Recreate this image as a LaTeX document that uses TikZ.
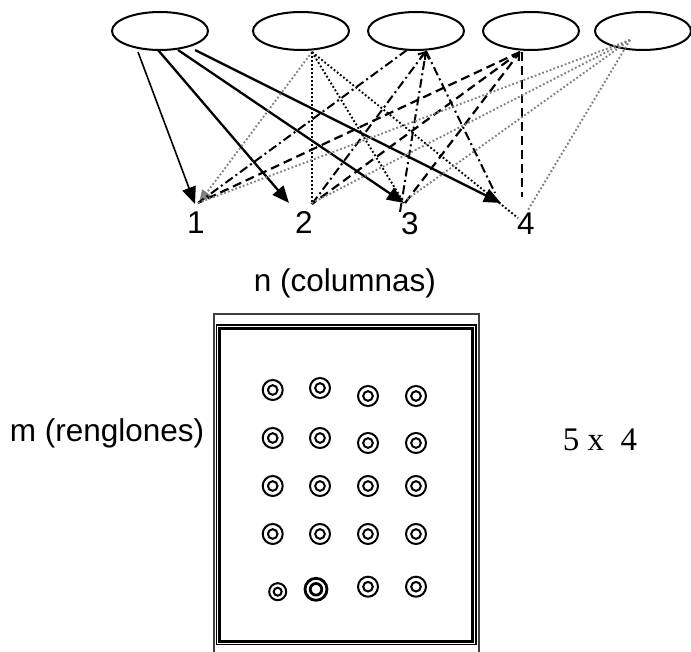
\documentclass[tikz,border=0pt]{standalone}
\usepackage{fontspec}
\setmainfont{Liberation Sans}
\newfontfamily\timesfont{Liberation Serif}
\usetikzlibrary{arrows.meta,shapes.geometric,positioning}

\begin{document}
\begin{tikzpicture}[x=1pt,y=-1pt,
  elem/.style={draw,ellipse,line width=2pt,minimum width=96pt,minimum height=38pt,inner sep=0pt},
  lbl/.style={font=\fontsize{31.5}{36}\selectfont,inner sep=0pt},
  flecha/.style={line width=2.3pt,-{Triangle[length=17pt,width=14pt]}},
  punteado/.style={line width=1.9pt,dash pattern=on 1.8pt off 2.2pt},
  gris/.style={punteado,gray},
  rayapunto/.style={line width=2pt,dash pattern=on 9pt off 3.5pt on 2pt off 3.5pt},
  rayado/.style={line width=2.2pt,dash pattern=on 9pt off 5pt},
  punta/.style={-{Straight Barb[length=6pt,width=9pt]}},
  anillo/.style={line width=1.5pt}]
\useasboundingbox (0,0) rectangle (691,652);

% elementos de arriba
\node[elem] (e1) at (160,31) {};
\node[elem] (e2) at (301,31) {};
\node[elem] (e3) at (416,31) {};
\node[elem] (e4) at (531,31) {};
\node[elem] (e5) at (643,31) {};

% puntos de salida
\coordinate (s1a) at (138,52);
\coordinate (s1b) at (158,50);
\coordinate (s1c) at (178,50);
\coordinate (s1d) at (195,50);
\coordinate (s2) at (312,52);
\coordinate (s3) at (426,51);
\coordinate (s3b) at (407,50);
\coordinate (s4) at (520,52);
\coordinate (s5) at (630,40);

% puntos de llegada
\coordinate (t1) at (195,204);
\coordinate (t2) at (312,204);
\coordinate (t3) at (404,203);
\coordinate (t4) at (501,203);

\node[lbl] (n1) at (196,223) {1};
\node[lbl] (n2) at (304,223) {2};
\node[lbl] (n3) at (410,224) {3};
\node[lbl] (n4) at (526,224) {4};

% desde el elemento 1
\draw[flecha,line width=1.6pt] (s1a) -- (t1);
\draw[flecha] (s1b) -- (289,203);
\draw[flecha] (s1c) -- (t3);
\draw[flecha] (s1d) -- (t4);

% desde el elemento 2
\draw[gris,-{Triangle[length=13pt,width=11pt]}] (s2) -- (199,203);
\draw[punteado] (s2) -- (t2);
\draw[punteado] (s2) -- (t3);
\draw[punteado] (s2) -- (518,218);

% desde el elemento 3
\draw[rayapunto] (s3b) -- (198,203);
\draw[rayapunto,punta] (t2) -- (s3);
\draw[rayapunto,punta] (400,212) -- (s3);
\draw[rayapunto] (s3) -- (495,193);

% desde el elemento 4
\draw[rayado] (s4) -- (198,203);
\draw[rayado] (s4) -- (t2);
\draw[rayado,punta] (405,203) -- (s4);
\draw[rayado] (522,52) -- (522,197);

% desde el elemento 5
\foreach \p in {(198,203),(312,203),(406,200),(528,210)}
  \draw[gris] (s5) -- \p;

% textos
\node[lbl] (col) at (345,283) {n (columnas)};
\node[lbl] (ren) at (107,433) {m (renglones)};
\node[lbl,font=\timesfont\fontsize{33}{38}\selectfont] (dim) at (600,440) {5 x\ \ 4};

% marco
\draw[line width=1.2pt,black!75] (214,314) rectangle (479,670);
\draw[line width=1.2pt] (216.5,325) rectangle (476,644.5);
\draw[line width=3.4pt] (219.5,328.5) rectangle (472.5,641.5);

% anillos
\foreach \x/\y/\R/\r/\w in {272.7/390/10/4.8/2, 320/388/10/4.8/2, 368/396/10/4.8/2, 416/396/10/4.8/2,
  272.7/438/10/4.8/2, 320/438/10/4.8/2, 368/443/10/4.8/2, 416/443/10/4.8/2,
  272.7/486/10/4.8/2, 320/486/10/4.8/2, 368/486/10/4.8/2, 416/486/10/4.8/2,
  272.7/534/10/4.8/2, 320/534/10/4.8/2, 368/534/10/4.8/2, 416/534/10/4.8/2,
  277.7/591.7/8.5/4/2, 316/589.3/11/5.8/2.8, 368/586.7/10/4.8/2, 416/586.7/10/4.8/2}
{
  \draw[anillo,line width=\w pt] (\x,\y) circle[radius=\R];
  \draw[anillo,line width=\w pt] (\x,\y) circle[radius=\r];
}
\end{tikzpicture}
\end{document}
